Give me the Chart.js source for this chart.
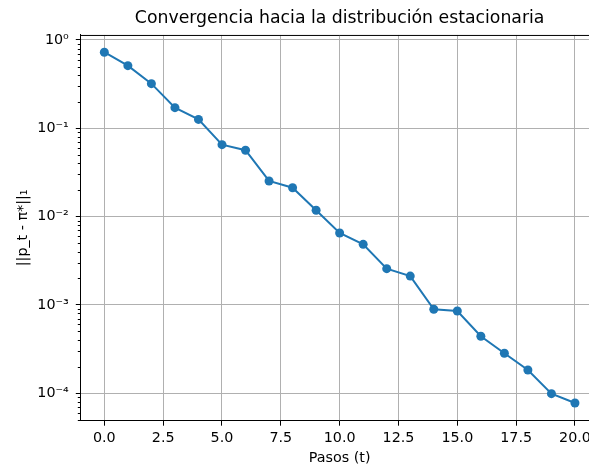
<!DOCTYPE html>
<html>
<head>
<meta charset="utf-8">
<script src="https://cdn.jsdelivr.net/npm/chart.js@4.4.0/dist/chart.umd.min.js"></script>
<style>
  html, body { margin: 0; padding: 0; background: #fff; overflow: hidden; }
  #wrap { width: 604px; height: 465px; position: relative; }
</style>
</head>
<body>
<div id="wrap"><canvas id="convChart"></canvas></div>
<script>
const steps = [0, 1, 2, 3, 4, 5, 6, 7, 8, 9, 10, 11, 12, 13, 14, 15, 16, 17, 18, 19, 20];
const l1Distance = [0.726, 0.512, 0.320, 0.171, 0.126, 0.0652, 0.0564, 0.0253, 0.0212, 0.0118,
  0.00652, 0.00485, 0.00257, 0.00212, 0.000891, 0.000853, 0.000441, 0.000283, 0.000183,
  0.0000987, 0.0000774];
const xTicks = [0, 2.5, 5, 7.5, 10, 12.5, 15, 17.5, 20];
const yTicks = [1e-4, 1e-3, 1e-2, 1e-1, 1];

const supers = { '-': '⁻', '0': '⁰', '1': '¹', '2': '²', '3': '³', '4': '⁴', '5': '⁵' };
function powLabel(v) {
  const e = String(Math.round(Math.log10(v)));
  return '10' + e.split('').map(c => supers[c]).join('');
}

const FONT = 'DejaVu Sans, sans-serif';

// top/right spines + minor log ticks
const framePlugin = {
  id: 'frame',
  afterDraw(chart) {
    const { ctx, chartArea: a } = chart;
    const y = chart.scales.y;
    ctx.save();
    ctx.strokeStyle = '#000';
    ctx.lineWidth = 1;
    ctx.beginPath();
    ctx.moveTo(a.left, a.top + 0.5);
    ctx.lineTo(a.right, a.top + 0.5);
    ctx.moveTo(a.right - 0.5, a.top);
    ctx.lineTo(a.right - 0.5, a.bottom);
    for (let n = -5; n <= 0; n++) {
      for (let k = 2; k <= 9; k++) {
        const v = k * Math.pow(10, n);
        if (v < y.min || v > y.max) continue;
        const py = Math.round(y.getPixelForValue(v)) + 0.5;
        ctx.moveTo(a.left - 3, py);
        ctx.lineTo(a.left, py);
      }
    }
    ctx.stroke();
    ctx.restore();
  }
};

new Chart(document.getElementById('convChart'), {
  type: 'line',
  data: {
    datasets: [{
      data: steps.map((s, i) => ({ x: s, y: l1Distance[i] })),
      borderColor: '#1f77b4',
      backgroundColor: '#1f77b4',
      borderWidth: 2,
      pointRadius: 4.5,
      pointHoverRadius: 4.5,
      pointBorderWidth: 0,
      tension: 0,
      fill: false
    }]
  },
  options: {
    responsive: true,
    maintainAspectRatio: false,
    animation: false,
    layout: { padding: { left: 0, right: 5.5, top: 0, bottom: 0 } },
    plugins: {
      legend: { display: false },
      tooltip: { enabled: false },
      title: {
        display: true,
        text: 'Convergencia hacia la distribución estacionaria',
        color: '#000',
        fullSize: false,
        font: { family: FONT, size: 17.3, weight: 'normal', lineHeight: 1.2 },
        padding: { top: 8.5, bottom: 5.7 }
      }
    },
    scales: {
      x: {
        type: 'linear',
        min: -1,
        max: 21,
        afterBuildTicks: s => { s.ticks = xTicks.map(v => ({ value: v })); },
        afterFit: s => { s.height = 44.3; },
        grid: { color: '#b0b0b0', lineWidth: 1, tickColor: '#000', tickLength: 5 },
        border: { color: '#000', width: 1 },
        ticks: {
          color: '#000',
          padding: 4,
          maxRotation: 0,
          font: { family: FONT, size: 14.3 },
          callback: v => Number(v).toFixed(1)
        },
        title: {
          display: true,
          text: 'Pasos (t)',
          color: '#000',
          font: { family: FONT, size: 14.3, lineHeight: 1 },
          padding: { top: 0, bottom: 0 }
        }
      },
      y: {
        type: 'logarithmic',
        min: 4.88e-5,
        max: 1.139,
        afterBuildTicks: s => { s.ticks = yTicks.map(v => ({ value: v, major: true })); },
        afterFit: s => { s.width = 80.8; },
        grid: { color: '#b0b0b0', lineWidth: 1, tickColor: '#000', tickLength: 5 },
        border: { color: '#000', width: 1 },
        ticks: {
          color: '#000',
          padding: 7,
          font: { family: FONT, size: 14.3 },
          callback: v => powLabel(v)
        },
        title: {
          display: true,
          text: '||p_t - π*||₁',
          color: '#000',
          font: { family: FONT, size: 14.3, lineHeight: 1.2 },
          padding: { top: 15, bottom: 0 }
        }
      }
    }
  },
  plugins: [framePlugin]
});
</script>
</body>
</html>
